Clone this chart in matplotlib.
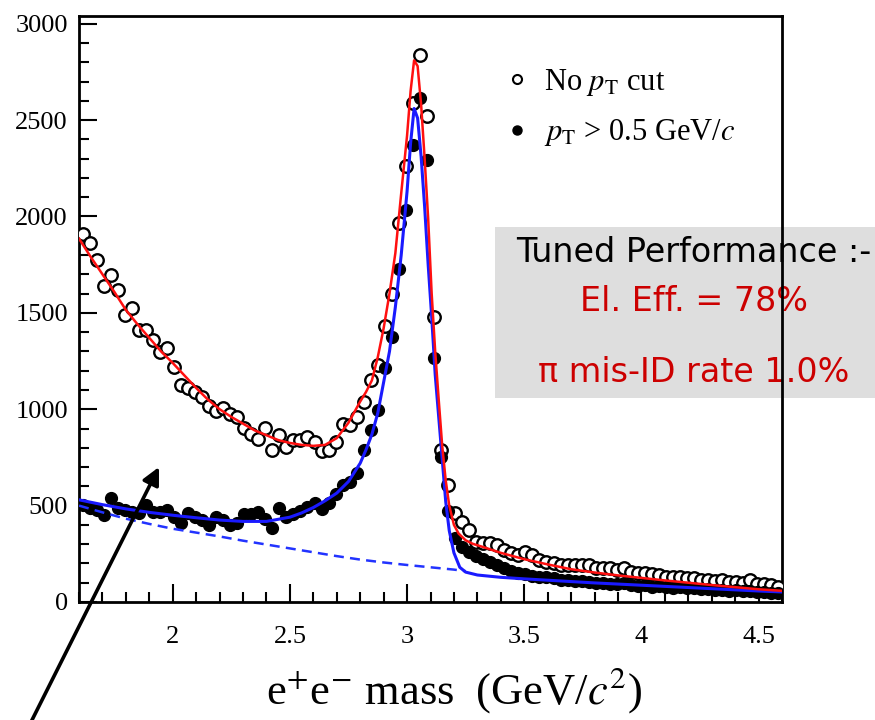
import matplotlib
matplotlib.use("Agg")
import matplotlib.pyplot as plt
from matplotlib.lines import Line2D
from matplotlib.patches import Rectangle
from matplotlib.ticker import MultipleLocator
import numpy as np

plt.rcParams['font.family'] = ['Liberation Serif', 'DejaVu Serif']
plt.rcParams['mathtext.fontset'] = 'stix'

# e+e- invariant mass, 0.03 GeV bins from 1.6 to 4.6
mass = 1.615 + 0.03 * np.arange(100)

no_cut = [1910, 1860, 1775, 1640, 1697, 1620, 1490, 1525, 1410, 1412,
          1360, 1295, 1318, 1220, 1128, 1110, 1090, 1065, 1015, 990,
          1005, 975, 960, 905, 870, 845, 905, 790, 865, 805,
          840, 842, 858, 832, 782, 790, 830, 925, 918, 962,
          1040, 1150, 1230, 1430, 1600, 1965, 2260, 2590, 2840, 2520,
          1480, 790, 607, 460, 417, 374, 313, 305, 305, 296,
          270, 253, 244, 261, 244, 218, 209, 201, 192, 192,
          192, 190, 192, 178, 176, 176, 165, 176, 155, 150,
          152, 145, 138, 130, 132, 128, 122, 125, 115, 114,
          110, 113, 105, 106, 100, 112, 95, 92, 88, 80]

pt_cut = [503, 486, 477, 451, 538, 486, 477, 469, 460, 503,
          469, 469, 477, 443, 408, 460, 440, 426, 400, 443,
          426, 400, 408, 455, 455, 465, 430, 384, 486, 443,
          455, 470, 495, 515, 480, 512, 560, 605, 625, 668,
          789, 893, 996, 1213, 1377, 1730, 2035, 2370, 2615, 2295,
          1265, 754, 470, 331, 287, 261, 240, 222, 205, 192,
          175, 160, 150, 145, 135, 132, 128, 122, 115, 112,
          110, 108, 105, 100, 98, 95, 92, 96, 88, 85,
          88, 80, 84, 76, 74, 78, 70, 72, 66, 68,
          62, 64, 58, 60, 55, 57, 52, 50, 48, 45]

# fitted line shapes
fit_red_x = [1.60, 1.65, 1.70, 1.75, 1.80, 1.85, 1.90, 1.95, 2.00, 2.05,
             2.10, 2.15, 2.20, 2.25, 2.30, 2.35, 2.40, 2.45, 2.50, 2.55,
             2.60, 2.65, 2.70, 2.75, 2.80, 2.825, 2.85, 2.875, 2.90, 2.925,
             2.95, 2.975, 3.00, 3.015, 3.03, 3.045, 3.06, 3.075, 3.09, 3.105,
             3.12, 3.135, 3.15, 3.165, 3.18, 3.20, 3.22, 3.25, 3.28, 3.33,
             3.40, 3.50, 3.60, 3.70, 3.80, 3.90, 4.00, 4.10, 4.20, 4.30,
             4.40, 4.50, 4.60]
fit_red_y = [1885, 1790, 1700, 1610, 1515, 1440, 1370, 1300, 1240, 1175,
             1110, 1050, 1000, 960, 925, 890, 865, 840, 825, 815,
             810, 815, 850, 930, 1040, 1090, 1150, 1270, 1420, 1600,
             1810, 2120, 2420, 2650, 2810, 2780, 2580, 2300, 1990, 1600,
             1300, 1050, 810, 630, 500, 400, 355, 320, 302, 283,
             255, 222, 195, 170, 153, 138, 125, 112, 100, 88,
             77, 66, 58]

fit_blue_x = [1.60, 1.70, 1.80, 1.90, 2.00, 2.10, 2.20, 2.30, 2.40, 2.50,
              2.55, 2.60, 2.65, 2.70, 2.75, 2.80, 2.825, 2.85, 2.875, 2.90,
              2.925, 2.95, 2.975, 3.00, 3.015, 3.03, 3.045, 3.06, 3.075, 3.09,
              3.105, 3.12, 3.135, 3.15, 3.165, 3.18, 3.20, 3.225, 3.25, 3.30,
              3.40, 3.50, 3.60, 3.70, 3.80, 3.90, 4.00, 4.10, 4.20, 4.30,
              4.40, 4.50, 4.60]
fit_blue_y = [530, 505, 483, 465, 450, 437, 425, 418, 418, 440,
              462, 490, 525, 565, 625, 720, 790, 870, 980, 1140,
              1300, 1530, 1800, 2130, 2380, 2560, 2510, 2310, 2050, 1750,
              1480, 1180, 960, 740, 520, 370, 255, 180, 155, 140,
              128, 120, 113, 106, 99, 93, 87, 81, 75, 69,
              63, 57, 52]

bkg_x = [1.60, 1.70, 1.80, 1.90, 2.00, 2.10, 2.20, 2.30, 2.40, 2.50,
         2.60, 2.70, 2.80, 2.90, 3.00, 3.10, 3.20, 3.25]
bkg_y = [500, 465, 432, 405, 380, 360, 340, 318, 298, 278,
         258, 238, 220, 205, 192, 180, 168, 160]

fig = plt.figure(figsize=(8.75, 7.2), dpi=100)
ax = fig.add_axes([0.0903, 0.1639, 0.8034, 0.8139])
ax.set_facecolor('none')

ax.plot(mass, no_cut, 'o', mfc='white', mec='black', ms=9, mew=1.7, zorder=3)
ax.plot(mass, pt_cut, 'o', color='black', ms=8.5, zorder=3)
ax.plot(bkg_x, bkg_y, color='#2233ff', lw=1.8, ls=(0, (4, 2.5)), zorder=4)
ax.plot(fit_blue_x, fit_blue_y, color='#1a1aff', lw=2.2, zorder=5)
ax.plot(fit_red_x, fit_red_y, color='#ff1010', lw=1.8, zorder=6)

ax.set_xlim(1.6, 4.6)
ax.set_ylim(0, 3040)
ax.xaxis.set_major_locator(MultipleLocator(0.5))
ax.xaxis.set_minor_locator(MultipleLocator(0.1))
ax.yaxis.set_major_locator(MultipleLocator(500))
ax.yaxis.set_minor_locator(MultipleLocator(100))
ax.set_xticks([2, 2.5, 3, 3.5, 4, 4.5])
ax.set_xticklabels(['2', '2.5', '3', '3.5', '4', '4.5'])
ax.tick_params(which='both', direction='in', top=False, right=False,
               labelsize=19, width=1.5)
ax.tick_params(which='major', length=13)
ax.tick_params(which='minor', length=7)
ax.tick_params(axis='x', pad=17)
ax.tick_params(axis='y', pad=8)
for s in ax.spines.values():
    s.set_linewidth(2)

handles = [Line2D([], [], marker='o', ls='none', mfc='white', mec='black', ms=6.5, mew=1.5),
           Line2D([], [], marker='o', ls='none', color='black', ms=6.5)]
ax.legend(handles, ['No $p_{\\rm T}$ cut', '$p_{\\rm T}$ > 0.5 GeV/$c$'],
          loc='upper left', bbox_to_anchor=(0.566, 0.96), frameon=False,
          fontsize=22, handlelength=0.8, handletextpad=0.5, labelspacing=0.64)

fig.text(0.519, 0.042, 'e$^{+}$e$^{-}$ mass  (GeV/$c^{2}$)', fontsize=32,
         ha='center', va='center')

# performance summary box
fig.add_artist(Rectangle((0.5657, 0.4472), 0.434, 0.2375, transform=fig.transFigure,
                         facecolor='#dedede', edgecolor='none', zorder=-1))
box_font = dict(family='DejaVu Sans', fontsize=24, ha='center', va='center', zorder=-0.5)
fig.text(0.793, 0.650, 'Tuned Performance :-', color='black', **box_font)
fig.text(0.793, 0.581, 'El. Eff. = 78%', color='#cc0000', **box_font)
fig.text(0.793, 0.482, 'π mis-ID rate 1.0%', color='#cc0000', **box_font)

ax.annotate('', xy=(159, 253), xytext=(26, -12), xycoords='figure pixels',
            textcoords='figure pixels', annotation_clip=False,
            arrowprops=dict(arrowstyle='-|>', lw=2.6, color='black',
                            mutation_scale=26, shrinkA=0, shrinkB=0), zorder=10)

fig.savefig('out.png', dpi=100)
